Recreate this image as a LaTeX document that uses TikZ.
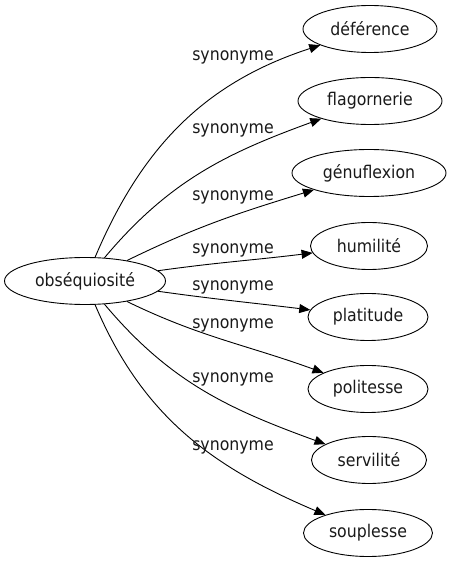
\documentclass[tikz,border=0pt]{standalone}
\usepackage{fontspec}
\setmainfont{DejaVu Sans Condensed}
\usetikzlibrary{shapes.geometric, arrows.meta, positioning}

\begin{document}
\begin{tikzpicture}[x=1pt, y=1pt,
    word/.style={ellipse, draw, line width=0.9pt, inner sep=0pt, minimum height=47pt, font=\fontsize{17.5}{20}\selectfont, text=black!90},
    rel/.style={inner sep=0pt, font=\fontsize{17.5}{20}\selectfont, text=black!90},
    arrow/.style={-{Triangle[length=11pt, width=9pt]}, line width=0.9pt}
  ]
  \useasboundingbox (0,0) rectangle (451,563);

  % Headword
  \node[word, minimum width=161pt] (obs) at (85,282) {obséquiosité};

  % Synonyms
  \node[word, minimum width=134pt] (deference) at (370,534) {déférence};
  \node[word, minimum width=144pt] (flagornerie) at (370,462) {flagornerie};
  \node[word, minimum width=154pt] (genuflexion) at (369,390) {génuflexion};
  \node[word, minimum width=117pt] (humilite) at (369,317) {humilité};
  \node[word, minimum width=120pt] (platitude) at (368,246) {platitude};
  \node[word, minimum width=120pt] (politesse) at (368,174) {politesse};
  \node[word, minimum width=115pt] (servilite) at (369,103) {servilité};
  \node[word, minimum width=129pt] (souplesse) at (368,30) {souplesse};

  % Edges and their labels
  \foreach \t/\o/\i/\ly in {deference/67/198/506, flagornerie/50/200/433, genuflexion/26/197/366, humilite/8/187/313,
                            platitude/-8/173/276, politesse/-26/160/238, servilite/-50/160/184, souplesse/-67/157/116} {
      \draw[arrow] (obs) to[out=\o, in=\i] (\t);
      \node[rel] (lab-\t) at (233,\ly) {synonyme};
    }

\end{tikzpicture}
\end{document}
